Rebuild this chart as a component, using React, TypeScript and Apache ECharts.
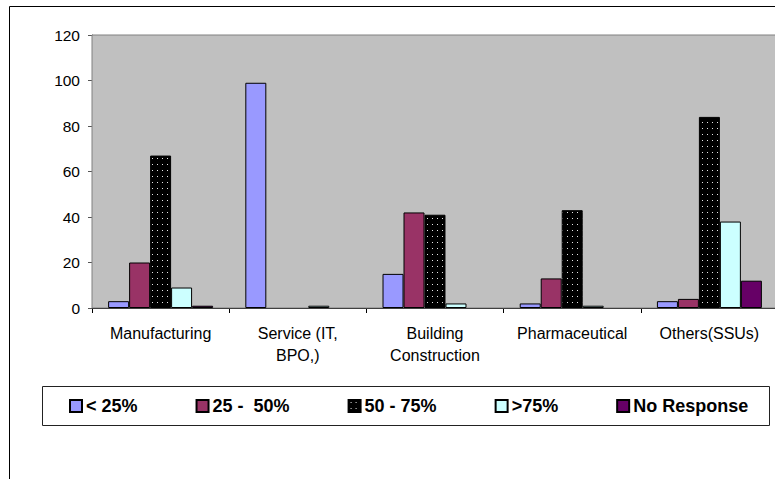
import React, { useEffect, useRef } from "react";
import * as echarts from "echarts";

// Industry sectors along the x axis
const categories = [
  "Manufacturing",
  "Service (IT,\nBPO,)",
  "Building\nConstruction",
  "Pharmaceutical",
  "Others(SSUs)",
];

// Response bands (legend entries)
const seriesNames = ["< 25%", "25 -  50%", "50 - 75%", ">75%", "No Response"];

// Counts per band, one value per sector (null = no response recorded)
const below25 = [3, 99, 15, 2, 3];
const from25to50 = [20, null, 42, 13, 4];
const from50to75 = [67, null, 41, 43, 84];
const above75 = [9, 1, 2, 1, 38];
const noResponse = [1, null, null, null, 12];

// Value axis range
const yMin = 0;
const yMax = 120;
const yStep = 20;

const FONT = "'Liberation Sans', Arial, sans-serif";

function dottedPattern(): HTMLCanvasElement {
  const c = document.createElement("canvas");
  c.width = 5;
  c.height = 6;
  const ctx = c.getContext("2d")!;
  ctx.fillStyle = "#000000";
  ctx.fillRect(0, 0, 5, 6);
  ctx.fillStyle = "#e6e6e6";
  ctx.fillRect(2, 2, 1, 1);
  return c;
}

export default function App() {
  const ref = useRef<HTMLDivElement>(null);

  useEffect(() => {
    if (!ref.current) return;
    const chart = echarts.init(ref.current, null, { renderer: "svg" });
    const dots = dottedPattern();

    const fills: any[] = [
      "#9999FF",
      "#993366",
      { image: dots, repeat: "repeat", imageWidth: 5, imageHeight: 6 },
      "#CCFFFF",
      "#660066",
    ];
    const values = [below25, from25to50, from50to75, above75, noResponse];

    chart.setOption({
      animation: false,
      backgroundColor: "#ffffff",
      textStyle: { fontFamily: FONT },
      graphic: [
        {
          type: "rect",
          z: 0,
          shape: { x: 9.5, y: 6.5, width: 790, height: 500 },
          style: { fill: "#ffffff", stroke: "#000000", lineWidth: 1 },
          silent: true,
        },
        {
          type: "rect",
          z: 1,
          shape: { x: 42.5, y: 386.5, width: 727, height: 39 },
          style: { fill: "#ffffff", stroke: "#222222", lineWidth: 1 },
          silent: true,
        },
      ],
      grid: {
        left: 92,
        top: 35,
        width: 686,
        height: 273,
        show: true,
        backgroundColor: "#C0C0C0",
        borderColor: "#808080",
        borderWidth: 1,
        z: 2,
      },
      legend: {
        z: 10,
        data: seriesNames,
        left: 64,
        top: 392,
        orient: "horizontal",
        itemWidth: 12,
        itemHeight: 12,
        itemGap: 58,
        icon: "rect",
        textStyle: {
          fontFamily: FONT,
          fontSize: 18,
          fontWeight: "bold",
          color: "#000000",
          padding: [0, 0, 0, -1],
        },
      },
      xAxis: {
        type: "category",
        data: categories,
        axisLine: { lineStyle: { color: "#000000", width: 1 } },
        axisTick: { show: true, length: 5, alignWithLabel: false, lineStyle: { color: "#000000" } },
        axisLabel: {
          interval: 0,
          margin: 14,
          fontFamily: FONT,
          fontSize: 16,
          lineHeight: 22,
          color: "#000000",
        },
        splitLine: { show: false },
      },
      yAxis: {
        type: "value",
        min: yMin,
        max: yMax,
        interval: yStep,
        axisLine: { show: true, lineStyle: { color: "#555555", width: 1 } },
        axisTick: { show: true, length: 4, lineStyle: { color: "#555555" } },
        axisLabel: {
          margin: 12,
          fontFamily: FONT,
          fontSize: 15.5,
          color: "#000000",
        },
        splitLine: { show: true, lineStyle: { color: "#000000", width: 1 } },
      },
      series: seriesNames.map((name, i) => ({
        name,
        type: "bar",
        data: values[i],
        barGap: "0%",
        barCategoryGap: "23.5%",
        z: 3,
        itemStyle: {
          color: fills[i],
          borderColor: "#000000",
          borderWidth: 1,
        },
      })),
    });

    return () => {
      chart.dispose();
    };
  }, []);

  return (
    <div
      style={{
        position: "fixed",
        left: 0,
        top: 0,
        width: 775,
        height: 479,
        overflow: "hidden",
        background: "#ffffff",
      }}
    >
      <div ref={ref} style={{ width: 800, height: 500 }} />
    </div>
  );
}
